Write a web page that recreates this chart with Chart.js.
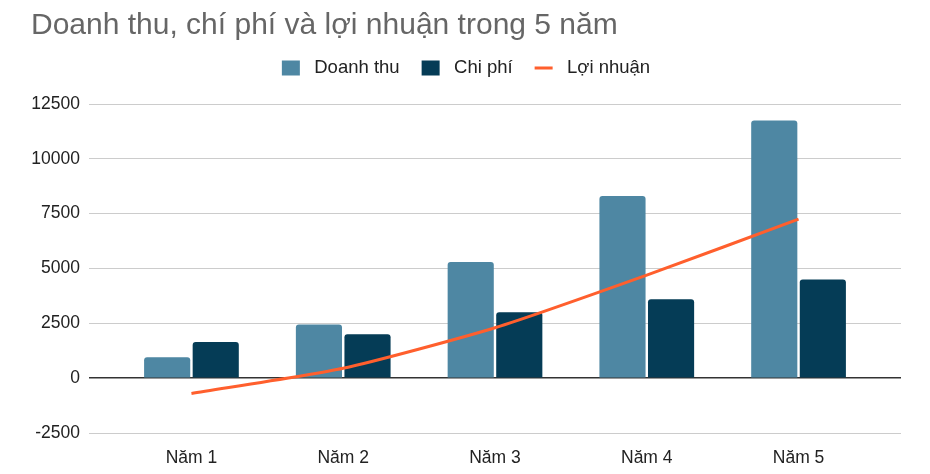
<!DOCTYPE html>
<html>
<head>
<meta charset="utf-8">
<script src="https://cdn.jsdelivr.net/npm/chart.js@4/dist/chart.umd.min.js"></script>
<style>
  html, body { margin: 0; padding: 0; background: #fff; }
  #wrap { width: 930px; height: 474px; }
</style>
</head>
<body>
<div id="wrap"><canvas id="bieu-do"></canvas></div>
<script>
const namLabels = ['Năm 1', 'Năm 2', 'Năm 3', 'Năm 4', 'Năm 5'];
const doanhThu = [950, 2450, 5300, 8300, 11750];
const chiPhi = [1650, 2000, 3000, 3600, 4500];
const loiNhuan = [-700, 450, 2300, 4700, 7250];
const yTicks = [-2500, 0, 2500, 5000, 7500, 10000, 12500];

const diem = arr => arr.map((v, i) => ({ x: i, y: v }));

Chart.defaults.font.family = '"Liberation Sans", Arial, sans-serif';

// dời chú giải lên gần tiêu đề như bản gốc
const dichChuGiai = {
  id: 'dichChuGiai',
  afterLayout(chart) {
    const lg = chart.legend;
    const dy = 36.75 - lg.top;
    lg.top += dy; lg.bottom += dy;
  }
};

const config = {
  data: {
    datasets: [{
      type: 'bar',
      label: 'Doanh thu',
      data: diem(doanhThu),
      backgroundColor: '#4e87a3',
      borderRadius: 3,
      borderSkipped: 'bottom',
      pointStyle: 'rect',
      categoryPercentage: 0.64,
      barPercentage: 0.95,
      order: 1
    }, {
      type: 'bar',
      label: 'Chi phí',
      data: diem(chiPhi),
      backgroundColor: '#053c56',
      borderRadius: 3,
      borderSkipped: 'bottom',
      pointStyle: 'rect',
      categoryPercentage: 0.64,
      barPercentage: 0.95,
      order: 1
    }, {
      type: 'line',
      label: 'Lợi nhuận',
      data: diem(loiNhuan),
      borderColor: '#ff5f2d',
      backgroundColor: '#ff5f2d',
      borderWidth: 3,
      pointRadius: 0,
      pointStyle: 'line',
      tension: 0.2,
      order: 0
    }]
  },
  options: {
    responsive: true,
    maintainAspectRatio: false,
    animation: false,
    layout: { padding: { left: 31, right: 29, top: 0, bottom: 0 } },
    plugins: {
      title: {
        display: true,
        text: 'Doanh thu, chí phí và lợi nhuận trong 5 năm',
        align: 'start',
        color: '#666666',
        font: { size: 30, weight: 'normal' },
        padding: { top: 8, bottom: 9.5 }
      },
      legend: {
        position: 'top',
        labels: {
          usePointStyle: true,
          pointStyleWidth: 18,
          boxHeight: 15,
          color: '#222',
          font: { size: 18.5 },
          padding: 22,
          generateLabels: chart => Chart.defaults.plugins.legend.labels.generateLabels(chart)
            .map(item => ({ ...item, text: ' ' + item.text })),
          sort: (a, b) => a.datasetIndex - b.datasetIndex
        }
      },
      tooltip: { enabled: false }
    },
    scales: {
      x: {
        type: 'linear',
        offset: false,
        min: -0.675,
        max: 4.675,
        afterBuildTicks: scale => { scale.ticks = namLabels.map((_, i) => ({ value: i })); },
        afterFit: scale => { scale.height = 41; },
        grid: { display: false },
        border: { display: false },
        ticks: {
          color: '#222',
          font: { size: 17.5 },
          padding: 7,
          maxRotation: 0,
          callback: v => namLabels[v]
        }
      },
      y: {
        min: -2500,
        max: 12500,
        afterBuildTicks: scale => { scale.ticks = yTicks.map(v => ({ value: v })); },
        afterFit: scale => { scale.width = 58; },
        border: { display: false },
        grid: {
          color: ctx => ctx.tick && ctx.tick.value === 0 ? '#333333' : '#cccccc',
          lineWidth: ctx => ctx.tick && ctx.tick.value === 0 ? 1.5 : 1,
          drawTicks: false
        },
        ticks: {
          color: '#222',
          font: { size: 17.5 },
          padding: 9,
          callback: v => String(v)
        }
      }
    }
  },
  plugins: [dichChuGiai]
};

new Chart(document.getElementById('bieu-do'), config);
</script>
</body>
</html>
